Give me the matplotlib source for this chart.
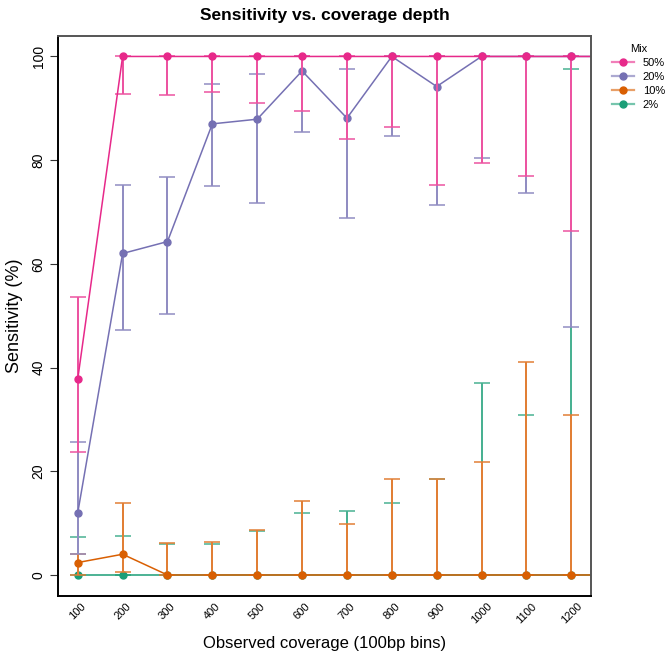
import matplotlib
matplotlib.use("Agg")
import matplotlib.pyplot as plt
from matplotlib.colors import to_rgb
from matplotlib.lines import Line2D
import numpy as np

plt.rcParams['font.family'] = ['Liberation Sans', 'DejaVu Sans']

# coverage bins (1300 is past the axis edge, lines run off the panel)
coverage = [100, 200, 300, 400, 500, 600, 700, 800, 900, 1000, 1100, 1200, 1300]
tick_labels = ['100', '200', '300', '400', '500', '600', '700', '800', '900',
               '1000', '1100', '1200']

mix_labels = ['50%', '20%', '10%', '2%']
mix_colors = ['#E7298A', '#7570B3', '#D95F02', '#1B9E77']

# sensitivity (%) per mix
sens_50 = [37.8, 100, 100, 100, 100, 100, 100, 100, 100, 100, 100, 100, 100]
sens_20 = [12.0, 62.0, 64.3, 87.0, 87.9, 97.2, 88.1, 100, 94.2, 100, 100, 100, 100]
sens_10 = [2.4, 4.0, 0, 0, 0, 0, 0, 0, 0, 0, 0, 0, 0]
sens_2 = [0, 0, 0, 0, 0, 0, 0, 0, 0, 0, 0, 0, 0]

# confidence intervals
lo_50 = [23.8, 92.8, 92.6, 93.1, 91.1, 89.5, 84.0, 86.3, 75.3, 79.5, 76.9, 66.4, np.nan]
hi_50 = [53.6, 100, 100, 100, 100, 100, 100, 100, 100, 100, 100, 100, np.nan]
lo_20 = [4.0, 47.2, 50.4, 75.1, 71.8, 85.5, 68.8, 84.6, 71.4, 80.5, 73.6, 47.9, np.nan]
hi_20 = [25.6, 75.3, 76.8, 94.7, 96.7, 100, 97.6, 100, 100, 100, 100, 100, np.nan]
lo_10 = [0, 0.5, 0, 0, 0, 0, 0, 0, 0, 0, 0, 0, np.nan]
hi_10 = [4.0, 13.8, 6.2, 6.4, 8.6, 14.3, 9.8, 18.6, 18.6, 21.8, 41.0, 30.8, np.nan]
lo_2 = [0, 0, 0, 0, 0, 0, 0, 0, 0, 0, 0, 0, np.nan]
hi_2 = [7.4, 7.6, 5.9, 5.9, 8.4, 12.0, 12.3, 13.8, 18.6, 37.0, 30.8, 97.6, np.nan]

series = [
    (sens_50, lo_50, hi_50),
    (sens_20, lo_20, hi_20),
    (sens_10, lo_10, hi_10),
    (sens_2, lo_2, hi_2),
]


def lighten(c, a=0.75):
    r = np.array(to_rgb(c))
    return tuple(a * r + (1 - a) * np.ones(3))


fig = plt.figure(figsize=(6.66, 6.54), dpi=100)
ax = fig.add_axes([0.0871, 0.0891, 0.8003, 0.8563])

x = np.array(coverage, dtype=float)
# draw 2% first so 50% ends up on top
for i in range(len(series) - 1, -1, -1):
    vals, lo, hi = series[i]
    vals = np.array(vals, dtype=float)
    yerr = np.vstack([vals - np.array(lo), np.array(hi) - vals])
    col = mix_colors[i]
    z = 2 + (3 - i) * 0.1
    eb = ax.errorbar(x, vals, yerr=yerr, fmt='none', ecolor=lighten(col, 0.8),
                     elinewidth=1.1, capsize=5.5, capthick=1.1, zorder=z)
    # no antialiasing, otherwise the bar underneath bleeds through
    for art in list(eb.lines[1]) + list(eb.lines[2]):
        art.set_antialiased(False)
    ax.plot(x, vals, '-o', color=col, lw=1.1, ms=5, zorder=z + 0.05)

ax.set_xlim(56, 1244)
ax.set_ylim(-4, 104)
ax.set_xticks(coverage[:-1])
ax.set_xticklabels(tick_labels, rotation=45, fontsize=8)
ax.set_yticks([0, 20, 40, 60, 80, 100])
ax.set_yticklabels(['0', '20', '40', '60', '80', '100'], rotation=90, va='center',
                   fontsize=10)
ax.tick_params(axis='x', length=0, pad=4)
ax.tick_params(axis='y', length=6, width=0.8, color='#333333', pad=3)

for side in ['left', 'bottom']:
    ax.spines[side].set_color('black')
    ax.spines[side].set_linewidth(1.4)
for side in ['top', 'right']:
    ax.spines[side].set_color('#555555')
    ax.spines[side].set_linewidth(1.4)

ax.set_xlabel('Observed coverage (100bp bins)', fontsize=12, labelpad=7)
ax.set_ylabel('Sensitivity (%)', fontsize=13, labelpad=6)
ax.set_title('Sensitivity vs. coverage depth', fontsize=12.5, fontweight='bold', pad=11)

handles = [Line2D([], [], color=lighten(c, 0.6), lw=1.6, marker='o', ms=5,
                  markerfacecolor=c, markeredgecolor=c) for c in mix_colors]
leg = fig.legend(handles, mix_labels, title='Mix', loc='upper left',
                 bbox_to_anchor=(0.9185, 0.9327), frameon=False, fontsize=8,
                 title_fontsize=8, handlelength=2.0, handletextpad=0.8,
                 labelspacing=0.36, borderpad=0, borderaxespad=0)

fig.savefig('out.png', dpi=100)
